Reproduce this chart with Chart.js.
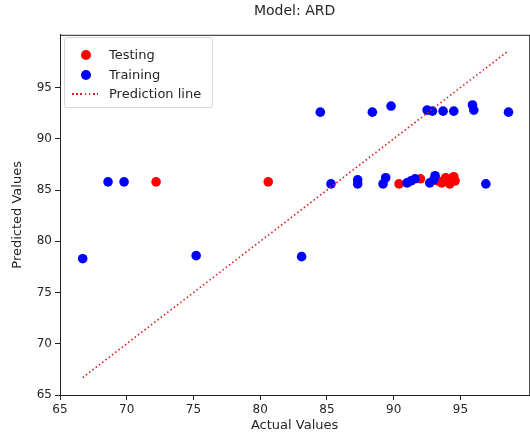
<!DOCTYPE html>
<html>
<head>
<meta charset="utf-8">
<script src="https://cdn.jsdelivr.net/npm/chart.js@4.4.1/dist/chart.umd.min.js"></script>
<style>
  html, body { margin: 0; padding: 0; background: #fff; overflow: hidden; }
  #wrap { position: relative; width: 534px; height: 437px; }
  #legend {
    position: absolute; left: 64px; top: 37px; width: 147px; height: 69px;
    border: 1px solid #d6d6d6; border-radius: 3px; background: rgba(255,255,255,0.85);
    font-family: "DejaVu Sans", sans-serif; font-size: 13px; color: #262626;
  }
  .item { position: absolute; left: 0; height: 16px; line-height: 16px; }
  .item span { position: absolute; left: 44px; white-space: nowrap; }
  .dot { position: absolute; left: 16px; top: 3px; width: 10px; height: 10px; border-radius: 50%; }
  .dash { position: absolute; left: 7px; top: 7px; width: 26px; height: 2px;
          background: repeating-linear-gradient(to right, #d82020 0 1.6px, transparent 1.6px 4.2px); }
</style>
</head>
<body>
<div id="wrap">
  <canvas id="c"></canvas>
  <div id="legend">
    <div class="item" style="top:9px"><div class="dot" style="background:#ff0000"></div><span>Testing</span></div>
    <div class="item" style="top:29px"><div class="dot" style="background:#0000ff"></div><span>Training</span></div>
    <div class="item" style="top:48px"><div class="dash"></div><span>Prediction line</span></div>
  </div>
</div>
<script>
// testing points (red)
const testActual = [72.2, 80.6, 90.4, 92.0, 93.6, 93.9, 94.2, 94.5, 94.6, 93.3];
const testPred   = [85.8, 85.8, 85.6, 86.1, 85.7, 86.2, 85.6, 86.3, 85.9, 85.9];

// training points (blue)
const trainActual = [66.7, 68.6, 69.8, 75.2, 83.1, 84.5, 85.3, 87.3, 87.3, 88.4, 89.2, 89.4, 89.8,
                     91.0, 91.3, 91.6, 92.5, 92.7, 92.9, 93.0, 93.1, 93.7, 94.5, 95.9, 96.0, 96.9, 98.6];
const trainPred   = [78.3, 85.8, 85.8, 78.6, 78.5, 92.6, 85.6, 86.0, 85.6, 92.6, 85.6, 86.2, 93.2,
                     85.7, 85.9, 86.1, 92.8, 85.7, 92.7, 86.0, 86.4, 92.7, 92.7, 93.3, 92.8, 85.6, 92.6];

// prediction line (y = x, from min to max actual)
const lineVals = [66.7, 98.6];

const xTicks = [65, 70, 75, 80, 85, 90, 95];
const yTicks = [65, 70, 75, 80, 85, 90, 95];

const toPts = (xs, ys) => xs.map((x, i) => ({x: x, y: ys[i]}));

const FONT = '"DejaVu Sans", sans-serif';
const TXT = '#262626';

// full matplotlib style frame around the plot
const frame = {
  id: 'frame',
  afterDraw(chart) {
    const a = chart.chartArea, ctx = chart.ctx;
    ctx.save();
    ctx.strokeStyle = '#222';
    ctx.lineWidth = 1;
    ctx.strokeRect(a.left + 0.5, a.top + 0.5, a.right - a.left, a.bottom - a.top);
    ctx.restore();
  }
};

const axis = (ticks, title, extra) => Object.assign({
  type: 'linear',
  min: 65,
  max: 100.15,
  afterBuildTicks: (s) => { s.ticks = ticks.map(v => ({value: v})); },
  ticks: { color: TXT, font: {family: FONT, size: 12}, padding: 3, maxRotation: 0 },
  grid: { display: true, drawOnChartArea: false, drawTicks: true, tickLength: 5, color: '#222' },
  border: { display: true, color: '#222', width: 1 },
  title: { display: true, text: title, color: TXT, font: {family: FONT, size: 13} }
}, extra);

new Chart(document.getElementById('c'), {
  type: 'scatter',
  data: {
    datasets: [
      {
        label: 'Prediction line',
        type: 'line',
        data: toPts(lineVals, lineVals),
        borderColor: '#e01818',
        borderWidth: 1.6,
        borderDash: [1.5, 2.6],
        pointRadius: 0,
        fill: false,
        order: 1
      },
      {
        label: 'Training',
        data: toPts(trainActual, trainPred),
        backgroundColor: '#0000ff',
        borderWidth: 0,
        pointRadius: 4.8,
        order: 2
      },
      {
        label: 'Testing',
        data: toPts(testActual, testPred),
        backgroundColor: '#ff0000',
        borderWidth: 0,
        pointRadius: 4.8,
        order: 3
      }
    ]
  },
  options: {
    responsive: true,
    maintainAspectRatio: false,
    animation: false,
    layout: { padding: { left: 0, right: 0, top: 0, bottom: 0 } },
    plugins: {
      legend: { display: false },
      tooltip: { enabled: false },
      title: {
        display: true,
        fullSize: false,
        text: 'Model: ARD',
        color: TXT,
        font: { family: FONT, size: 14, weight: 'normal' },
        padding: { top: 3, bottom: 15 }
      }
    },
    scales: {
      x: axis(xTicks, 'Actual Values', {
        afterFit: (s) => { s.height = 42; }
      }),
      y: axis(yTicks, 'Predicted Values', {
        title: { display: true, text: 'Predicted Values', color: TXT,
                 font: {family: FONT, size: 13}, padding: {top: 10, bottom: 0} },
        afterFit: (s) => { s.width = 60; }
      })
    }
  },
  plugins: [frame]
});
</script>
</body>
</html>
